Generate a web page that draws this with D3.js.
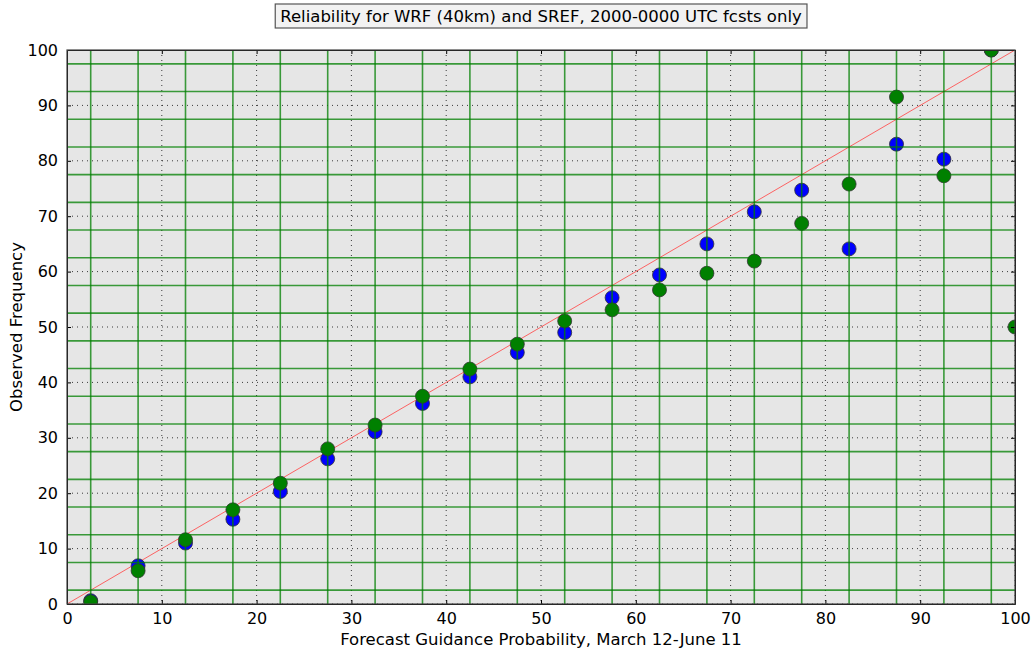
<!DOCTYPE html>
<html>
<head>
<meta charset="utf-8">
<script src="https://d3js.org/d3.v7.min.js"></script>
<style>
  body { margin: 0; background: #fff; }
  text { font-family: "DejaVu Sans", sans-serif; }
  .axis path { stroke: #000; stroke-width: 1; }
  .axis line { stroke: #000; }
  .axis text { font-size: 16px; fill: #000; }
</style>
</head>
<body>
<script>
// forecast bins (x)
var bins = [2.5, 7.5, 12.5, 17.5, 22.5, 27.5, 32.5, 37.5, 42.5, 47.5,
            52.5, 57.5, 62.5, 67.5, 72.5, 77.5, 82.5, 87.5, 92.5, 97.5];
// WRF (blue)
var wrfFreq = [0.6, 6.9, 11.0, 15.3, 20.3, 26.2, 31.1, 36.2, 41.0, 45.4,
               49.0, 55.3, 59.4, 65.0, 70.8, 74.7, 64.1, 83.0, 80.3, 100];
// SREF (green) - last point sits on the right edge
var srefBins = bins.concat([100]);
var srefFreq = [0.4, 6.0, 11.6, 17.0, 21.8, 28.0, 32.3, 37.5, 42.4, 46.9,
                51.1, 53.1, 56.7, 59.7, 61.9, 68.7, 75.8, 91.5, 77.3, 100, 50];
var ticks = [0, 10, 20, 30, 40, 50, 60, 70, 80, 90, 100];
var binEdges = [2.5, 7.5, 12.5, 17.5, 22.5, 27.5, 32.5, 37.5, 42.5, 47.5,
                52.5, 57.5, 62.5, 67.5, 72.5, 77.5, 82.5, 87.5, 92.5, 97.5];

var margin = {top: 50, right: 18, bottom: 49, left: 67};
var W = 1033, H = 653;
var width = W - margin.left - margin.right;
var height = H - margin.top - margin.bottom;

var x = d3.scaleLinear().domain([0, 100]).range([0, width]);
var y = d3.scaleLinear().domain([0, 100]).range([height, 0]);

var svg = d3.select("body").append("svg")
    .attr("width", W).attr("height", H);

var g = svg.append("g")
    .attr("transform", "translate(" + margin.left + "," + margin.top + ")");

g.append("clipPath").attr("id", "clip")
  .append("rect").attr("width", width).attr("height", height);

g.append("rect")
    .attr("width", width).attr("height", height)
    .style("fill", "#e6e6e6");

var plot = g.append("g").attr("clip-path", "url(#clip)");

// dotted grid
plot.selectAll(".vgrid").data(ticks).enter().append("line")
    .attr("x1", d => x(d)).attr("x2", d => x(d))
    .attr("y1", 0).attr("y2", height)
    .style("stroke", "#000").style("stroke-width", 1)
    .style("stroke-dasharray", "1,4").style("opacity", 0.75);
plot.selectAll(".hgrid").data(ticks).enter().append("line")
    .attr("y1", d => y(d)).attr("y2", d => y(d))
    .attr("x1", 0).attr("x2", width)
    .style("stroke", "#000").style("stroke-width", 1)
    .style("stroke-dasharray", "1,4").style("opacity", 0.75);

// perfect reliability line
plot.append("line")
    .attr("x1", x(0)).attr("y1", y(0))
    .attr("x2", x(100)).attr("y2", y(100))
    .style("stroke", "#ff5555").style("stroke-width", 1)
    .style("opacity", 0.9);

function dots(xs, ys, color) {
  plot.selectAll(null).data(ys).enter().append("circle")
      .attr("cx", (d, i) => x(xs[i]))
      .attr("cy", d => y(d))
      .attr("r", 7)
      .style("fill", color)
      .style("stroke", "#333")
      .style("stroke-width", 0.8);
}
dots(bins, wrfFreq, "#0000ff");
dots(srefBins, srefFreq, "#008000");

// green bin lines
plot.selectAll(".gv").data(binEdges).enter().append("line")
    .attr("x1", d => x(d)).attr("x2", d => x(d))
    .attr("y1", 0).attr("y2", height)
    .style("stroke", "#008000").style("stroke-width", 1.6).style("opacity", 0.75);
plot.selectAll(".gh").data(binEdges).enter().append("line")
    .attr("y1", d => y(d)).attr("y2", d => y(d))
    .attr("x1", 0).attr("x2", width)
    .style("stroke", "#008000").style("stroke-width", 1.6).style("opacity", 0.75);

// axes (ticks inward, classic style)
g.append("g").attr("class", "axis")
    .attr("transform", "translate(0," + height + ")")
    .call(d3.axisBottom(x).tickValues(ticks).tickSizeInner(-4).tickSizeOuter(0).tickPadding(9));
g.append("g").attr("class", "axis")
    .call(d3.axisLeft(y).tickValues(ticks).tickSizeInner(-4).tickSizeOuter(0).tickPadding(9));
g.append("g").attr("class", "axis")
    .call(d3.axisTop(x).tickValues(ticks).tickSizeInner(-4).tickSizeOuter(0).tickFormat(""));
g.append("g").attr("class", "axis")
    .attr("transform", "translate(" + width + ",0)")
    .call(d3.axisRight(y).tickValues(ticks).tickSizeInner(-4).tickSizeOuter(0).tickFormat(""));

g.append("rect")
    .attr("width", width).attr("height", height)
    .style("fill", "none").style("stroke", "#444").style("stroke-width", 1.2);

// labels
svg.append("text")
    .attr("x", margin.left + width / 2).attr("y", 645)
    .attr("text-anchor", "middle").style("font-size", "16.5px")
    .text("Forecast Guidance Probability, March 12-June 11");
svg.append("text")
    .attr("transform", "rotate(-90)")
    .attr("x", -(margin.top + height / 2)).attr("y", 22)
    .attr("text-anchor", "middle").style("font-size", "16.5px")
    .text("Observed Frequency");

// title box
var title = svg.append("g");
var tt = title.append("text")
    .attr("x", margin.left + width / 2).attr("y", 22)
    .attr("text-anchor", "middle").style("font-size", "16.5px")
    .text("Reliability for WRF (40km) and SREF, 2000-0000 UTC fcsts only");
var bb = tt.node().getBBox();
title.insert("rect", "text")
    .attr("x", bb.x - 5).attr("y", 4)
    .attr("width", bb.width + 10).attr("height", 24)
    .style("fill", "#f2f2f2").style("stroke", "#555").style("stroke-width", 1.2);
</script>
</body>
</html>
